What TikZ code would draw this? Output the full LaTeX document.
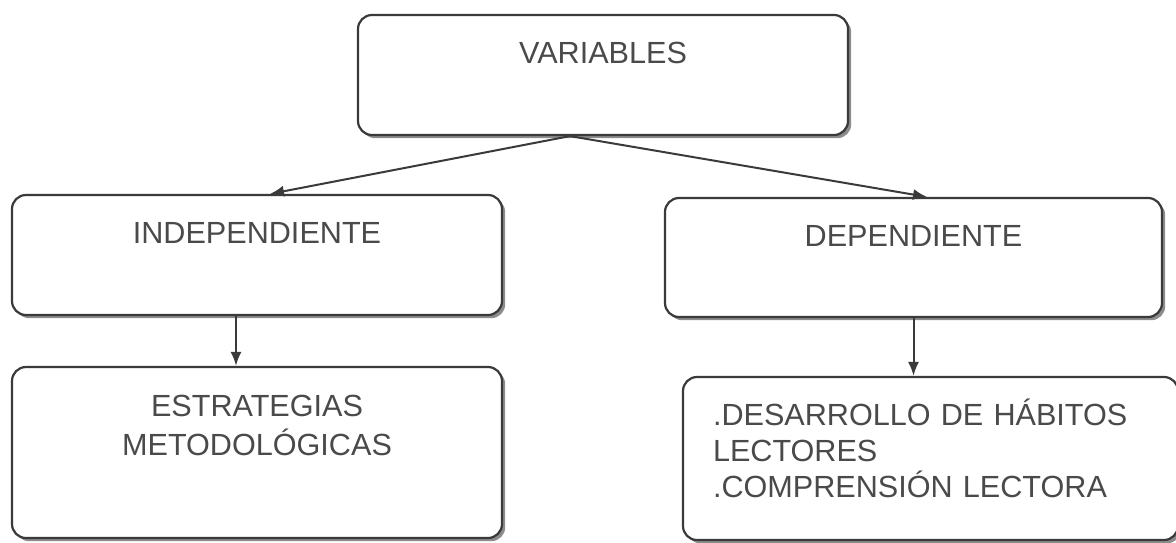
\documentclass[tikz,border=0pt]{standalone}
\usepackage{fontspec}
\setmainfont{Liberation Sans}
\usetikzlibrary{arrows.meta,shadows}
\definecolor{lineclr}{HTML}{3A3A3A}
\definecolor{textclr}{HTML}{4A4A4A}

\begin{document}
\begin{tikzpicture}[x=0.5pt,y=-0.5pt,
  caja/.style={draw=lineclr, line width=1.1pt, fill=white, rounded corners=7pt,
    inner sep=0pt, text=textclr, align=center,
    font=\fontsize{15.3pt}{19.5pt}\selectfont,
    drop shadow={shadow xshift=1.6pt, shadow yshift=-1.6pt, fill=black!45, opacity=1}},
  flecha/.style={draw=lineclr, line width=1pt, -{Latex[length=7pt,width=5.5pt]}}]
\useasboundingbox (0,0) rectangle (1176,542);
\node[caja, minimum width=245pt, text height=24pt, text depth=36pt] (variables) at (603,75) {VARIABLES};
\node[caja, minimum width=245pt, text height=24pt, text depth=36pt] (independiente) at (257,255) {INDEPENDIENTE};
\node[caja, minimum width=248.5pt, text height=24pt, text depth=35.5pt] (dependiente) at (913.5,257.5) {DEPENDIENTE};
\node[caja, text width=245pt, text height=24.5pt, text depth=61pt] (estrategias) at (257,452.5) {ESTRATEGIAS\\METODOLÓGICAS};
\node[caja, align=left, inner xsep=15pt, text width=217.5pt, text height=24pt, text depth=57.5pt,
  font=\fontsize{15.3pt}{18pt}\selectfont] (desarrollo) at (930.5,458.5)
  {.DESARROLLO DE HÁBITOS\\LECTORES\\.COMPRENSIÓN LECTORA};
\draw[flecha] ([xshift=-16.5pt]variables.south) -- ([xshift=6.5pt]independiente.north);
\draw[flecha] ([xshift=-16.5pt]variables.south) -- ([xshift=6.75pt]dependiente.north);
\draw[flecha] ([xshift=-10.5pt]independiente.south) -- ([xshift=-10.5pt]independiente.south |- estrategias.north);
\draw[flecha] (dependiente.south) -- (dependiente.south |- desarrollo.north);
\end{tikzpicture}
\end{document}
